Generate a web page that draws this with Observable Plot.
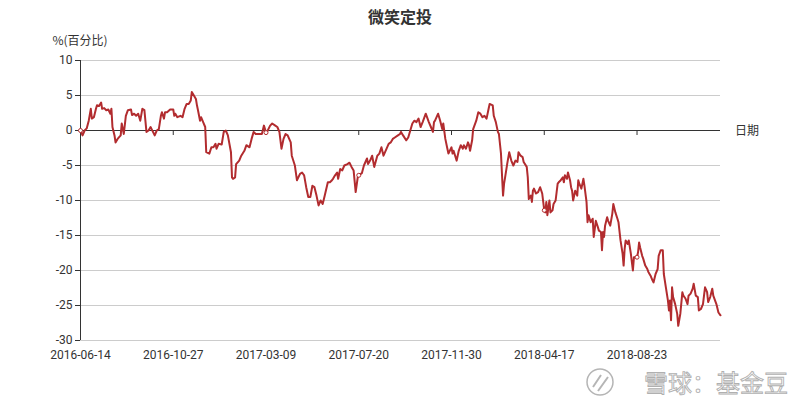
<!DOCTYPE html>
<html><head><meta charset="utf-8">
<script src="https://cdn.jsdelivr.net/npm/d3@7"></script>
<script src="https://cdn.jsdelivr.net/npm/@observablehq/plot@0.6"></script>
<style>body{margin:0;background:#fff;} #chart{width:800px;height:400px;}</style>
</head><body><div id="chart"></div>
<script>
// trading-day index (0 = 2016-06-14) and cumulative % change
const dayIndex = [0,2,4,6,8,10,11,13,15,16,18,20,21,23,25,27,29,30,31,33,34,36,39,40,42,44,46,49,50,52,54,56,58,60,62,64,66,68,69,72,74,76,78,79,81,82,84,87,90,91,92,94,97,99,101,103,105,107,108,110,112,113,114,116,117,119,121,122,125,127,129,131,132,134,137,139,141,143,146,147,148,150,151,154,156,159,161,164,166,168,170,173,176,178,180,181,184,186,189,191,193,195,197,199,201,204,205,208,210,213,215,217,219,221,223,225,227,229,231,233,235,237,240,242,244,245,247,249,250,252,254,256,259,261,263,265,267,269,270,273,275,278,279,281,283,285,288,290,292,294,297,299,301,303,305,308,310,311,313,316,318,320,322,324,326,328,330,332,335,338,340,342,343,344,347,349,351,352,354,356,357,360,361,362,365,367,369,371,372,374,376,377,378,380,381,384,386,388,390,392,394,396,397,400,401,403,405,406,408,409,410,411,412,414,416,418,420,422,424,425,427,429,430,433,434,435,437,438,439,440,442,444,446,448,450,451,452,453,455,456,458,459,461,463,464,466,468,469,470,472,473,475,476,477,478,480,482,483,484,486,488,489,491,492,493,495,497,498,500,502,503,505,506,507,508,509,511,512,514,516,517,519,521,522,524,526,527,528,529,531,532,534,536,537,540,541,542,543,545,546,548,550,551,553,555,556,558,560,561,563,565,566,568,570,571,572,573,574,575,577,579,580,582,584,585,587,589,590,592,594,595,597,599,600,602,604,605,606,608,609,611,613,614,617,619,621];
const pctChange = [0,-0.7,0,0.3,1.4,3.1,1.7,1.9,3.1,3.6,3.5,4.0,3.1,3.2,2.9,3.0,2.4,3.1,0.5,-0.7,-1.7,-1.2,-0.7,1.0,-0.5,2.1,2.9,3.0,2.2,2.4,2.1,2.4,1.4,3.1,2.9,-0.2,0,0.5,0.2,-0.7,0,0.2,2.1,2.6,1.7,2.6,2.6,3.0,3.0,2.1,2.4,1.9,2.1,1.9,3.1,3.8,3.8,4.3,5.5,5.0,4.5,3.6,2.9,1.4,1.9,1.2,0.5,-3.1,-3.3,-2.4,-2.4,-1.9,-2.6,-1.9,-2.0,-0.2,0,-0.7,-3.1,-6.7,-6.9,-6.7,-4.8,-4.3,-3.6,-2.9,-2.1,-2.4,-1.2,-0.2,-0.5,-0.5,-0.5,0.7,-0.3,-0.2,0.7,1.0,0.7,0.5,-0.2,-2.6,-1.2,-0.5,-0.7,-1.7,-3.6,-5.0,-7.1,-6.2,-6.0,-6.4,-8.1,-9.5,-9.5,-7.9,-8.1,-9.3,-10.7,-10.0,-10.5,-9.3,-7.4,-7.4,-7.1,-6.9,-6.4,-6.0,-6.9,-5.5,-5.7,-5.0,-4.8,-4.6,-5.2,-5.7,-8.8,-6.7,-6.4,-6.1,-5.0,-4.0,-4.8,-4.3,-3.6,-5.2,-3.6,-3.3,-2.4,-3.6,-2.6,-1.9,-1.7,-1.2,-1.0,-0.7,-0.5,-0.2,-0.7,-1.4,-1.0,0,1.0,1.4,1.2,1.7,0.5,1.2,2.4,1.2,0.5,-0.2,1.2,1.4,2.4,1.4,0.2,1.0,-1.2,-2.6,-3.3,-2.4,-3.3,-2.9,-4.3,-2.9,-2.1,-2.6,-2.1,-2.6,-1.7,-2.1,-2.9,-1.4,0.2,1.4,2.6,2.4,1.9,2.1,1.7,3.1,3.8,3.6,2.1,1.2,-0.2,-0.5,-3.3,-6.4,-9.3,-7.6,-6.7,-4.8,-3.1,-4.3,-5.0,-4.3,-4.5,-3.1,-3.6,-3.8,-4.5,-5.2,-6.7,-9.8,-9.3,-10.2,-8.6,-8.3,-9.0,-8.8,-8.1,-9.0,-11.4,-11.7,-10.2,-12.1,-10.0,-11.7,-11.4,-10.5,-10.0,-7.6,-7.4,-7.1,-6.7,-7.4,-6.4,-6.9,-6.0,-7.1,-8.1,-8.6,-10.0,-8.6,-9.3,-7.1,-7.6,-8.3,-6.9,-7.9,-10.2,-13.1,-12.1,-13.1,-12.6,-15.2,-12.9,-13.8,-14.3,-14.5,-17.1,-14.5,-15.2,-13.6,-12.4,-12.9,-13.6,-11.9,-10.5,-11.7,-12.6,-13.1,-15.7,-17.6,-19.3,-16.9,-15.7,-16.2,-15.7,-17.6,-20.0,-18.1,-18.1,-17.4,-16.0,-16.7,-17.9,-18.3,-19.3,-19.8,-20.2,-20.7,-21.4,-21.7,-20.5,-19.8,-17.9,-17.1,-17.1,-20.5,-22.4,-24.3,-25.7,-24.3,-27.1,-22.4,-23.8,-24.8,-26.2,-27.9,-26.2,-23.1,-23.6,-24.0,-24.8,-23.6,-23.3,-22.6,-21.9,-23.6,-23.8,-25.7,-25.5,-24.8,-23.6,-22.4,-23.1,-24.5,-23.8,-22.6,-23.6,-24.8,-26.0,-26.4];
const tickIndex = [0,90,180,270,360,450,540];
const tickLabels = ["2016-06-14","2016-10-27","2017-03-09","2017-07-20","2017-11-30","2018-04-17","2018-08-23"];
const symbolIndex = [0,180,270,450,540];
const yTicks = [10,5,0,-5,-10,-15,-20,-25,-30];
const lastIndex = 621;
const titleText = "微笑定投";
const yName = "%(百分比)";
const xName = "日期";
const watermark = "雪球：基金豆";

const data = dayIndex.map((d,i)=>({idx:d, v:pctChange[i]}));
const labelOf = new Map(tickIndex.map((d,i)=>[d,tickLabels[i]]));
const font = '"Microsoft YaHei","Noto Sans CJK SC","Noto Sans",sans-serif';
const numFont = 'Roboto,"Noto Sans",sans-serif';
const lineColor = "#b22c2f";

const chart = Plot.plot({
  width:800, height:400, marginLeft:80, marginRight:80, marginTop:60, marginBottom:60,
  style:{fontFamily:font, fontSize:"12px", color:"#333", background:"#fff", overflow:"visible"},
  x:{domain:[0,lastIndex]},
  y:{domain:[-30,10]},
  marks:[
    Plot.gridY(yTicks,{stroke:"#ccc", strokeOpacity:1}),
    Plot.ruleY([0],{stroke:"#333", strokeWidth:1}),
    Plot.ruleX(tickIndex.slice(1),{x:d=>d, y1:0, y2:0, insetBottom:-5, stroke:"#333"}),
    Plot.ruleX([0],{stroke:"#333"}),
    Plot.axisY(yTicks,{tickSize:5, tickPadding:3, tickFormat:d=>String(d), stroke:"#333", fill:"#333", fontSize:12, fontFamily:numFont, label:null}),
    Plot.axisX(tickIndex,{tickSize:0, tickPadding:10, tickFormat:d=>labelOf.get(d), fill:"#333", fontSize:12, fontFamily:numFont, label:null}),
    Plot.line(data,{x:"idx", y:"v", stroke:lineColor, strokeWidth:2}),
    Plot.dot(data.filter(d=>symbolIndex.includes(d.idx)),{x:"idx", y:"v", r:2, fill:"#fff", stroke:lineColor, strokeWidth:1})
  ]
});
document.getElementById("chart").appendChild(chart);

const svg = d3.select(chart);
svg.append("text").attr("x",400).attr("y",23).attr("text-anchor","middle")
  .attr("font-size",16).attr("font-weight","bold").attr("fill","#333").attr("font-family",font).text(titleText);
svg.append("text").attr("x",80).attr("y",45).attr("text-anchor","middle")
  .attr("font-size",12).attr("fill","#333").attr("font-family",font).text(yName);
svg.append("text").attr("x",735).attr("y",135).attr("text-anchor","start")
  .attr("font-size",12).attr("fill","#333").attr("font-family",font).text(xName);
const wm = svg.append("g").attr("fill","none").attr("stroke","#b5b5b5");
wm.append("circle").attr("cx",600).attr("cy",382).attr("r",13).attr("stroke-width",1.5);
wm.append("path").attr("d","M593,387 L601,375 M598,391 L608,377").attr("stroke-width",2);
wm.append("text").attr("x",788).attr("y",392).attr("text-anchor","end").attr("font-size",24)
  .attr("fill","#fff").attr("stroke","#b0b0b0").attr("stroke-width",0.9).attr("font-family",font).text(watermark);
</script>
</body></html>
